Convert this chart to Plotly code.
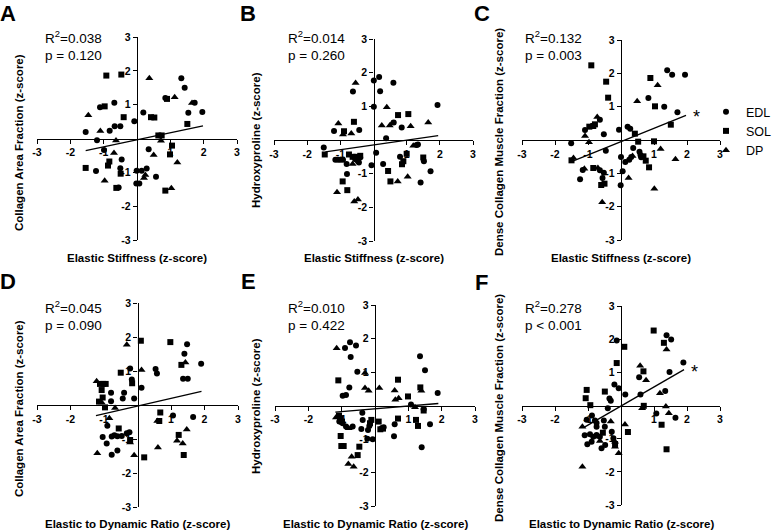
import plotly.graph_objects as go

# ---------------- data ----------------
series_names = ["EDL", "SOL", "DP"]
series_symbols = ["circle", "square", "triangle-up"]

# Panel A: Collagen Area Fraction vs Elastic Stiffness
a_edl_x = [1.33, 1.43, 0.85, -0.68, -1.11, 0.19, 1.54, 1.96, 1.73, -0.08, -0.67, -0.50, -0.82, -1.54, -1.20, -0.99, -0.46, 0.35, -1.23, -0.50, -0.01, 0.14, 0.29, -0.02, 0.07, 0.57, -0.55]
a_edl_y = [1.78, 1.50, 1.20, 1.06, 0.92, 0.77, 0.76, 0.78, 1.06, 0.51, 0.36, 0.36, 0.23, 0.19, -0.05, -0.34, -0.62, -0.32, -0.96, -0.88, -0.95, -0.95, -0.89, -1.33, -1.33, -1.13, -1.45]
a_sol_x = [-0.92, -0.47, -0.97, -0.40, 0.42, 0.52, 0.90, 1.51, 0.64, 0.74, 1.05, 0.99, -0.83, -0.87, -1.54, -0.49, -0.62, 0.85]
a_sol_y = [1.86, 1.89, 0.95, 0.63, 0.63, 0.62, 1.17, 0.43, 0.09, 0.09, -0.21, -0.47, -0.68, -0.80, -0.87, -1.04, -1.46, -1.54]
a_dp_x = [0.37, 1.13, -1.46, -1.10, -0.63, 0.72, -0.69, 0.50, 1.21, -0.97, 0.25, 0.21, 1.03, 1.65]
a_dp_y = [1.78, 1.22, 0.69, 0.22, -0.06, -0.07, -0.43, -0.49, -0.71, -1.25, -1.08, -1.17, -1.47, 1.05]
a_fit_x = [-1.54, 1.98]
a_fit_y = [-0.36, 0.37]

# Panel B: Hydroxyproline vs Elastic Stiffness
b_edl_x = [0.01, 0.17, -0.62, 0.20, 0.60, 0.01, 1.93, -1.19, -0.43, 0.85, 0.61, 0.38, 1.34, -1.50, -1.15, -1.07, -1.00, -0.92, -0.81, -0.80, -0.55, -0.47, -0.44, -0.40, 0.08, -0.06, 0.29, 0.80, 1.52, 1.72, 1.42, 1.30]
b_edl_y = [1.77, 1.87, 1.44, 1.45, 1.70, 0.99, 1.04, 0.27, 0.30, 0.37, 0.52, 0.05, -0.13, -0.22, -0.59, -0.59, -0.59, -0.59, -0.71, -1.01, -0.57, -0.63, -0.67, -0.52, -0.38, -0.75, -0.71, -0.50, -0.63, -0.93, -1.26, -0.15]
b_sol_x = [-0.59, -0.89, 0.74, 1.05, -1.47, -0.74, -0.63, -0.52, -0.40, 1.00, 0.90, 0.86, 1.50, 0.44, 0.51, -0.93, -0.79]
b_sol_y = [0.54, 0.26, 0.74, 0.77, -0.43, -0.43, -0.50, -0.50, -0.47, -0.41, -0.63, -0.72, -0.52, -0.92, -1.23, -1.23, -1.49]
b_dp_x = [-0.54, 0.40, -1.06, -0.67, -0.92, 0.25, 0.49, 0.56, 1.12, 1.65, 1.20, -0.63, 0.73, 1.03, -1.10, -0.58, -0.47]
b_dp_y = [1.69, 0.97, 0.49, 0.19, 0.16, 0.43, 0.43, 0.50, 0.41, 0.52, -0.17, -0.71, -1.23, -1.09, -1.55, -1.83, -1.77]
b_fit_x = [-1.45, 1.95]
b_fit_y = [-0.35, 0.13]

# Panel C: Dense Collagen Muscle Fraction vs Elastic Stiffness
c_edl_x = [1.40, 1.55, 1.94, 0.83, 1.31, 1.71, -0.64, -1.09, -0.52, -0.06, 0.20, 0.28, -1.51, -0.46, 0.37, 0.00, -1.16, -1.24, -0.64, -0.52, 0.13, 0.25, 0.31, 0.56, 0.59, 0.61, -0.01, 0.05, -0.56]
c_edl_y = [2.09, 1.96, 1.96, 1.26, 1.00, 0.83, 0.61, 0.30, 0.17, 0.31, 0.40, 0.34, -0.10, -0.32, -0.24, -0.51, -0.90, -1.18, -0.91, -0.98, -0.66, -0.59, -0.51, -0.35, -0.45, -0.52, -1.36, -0.94, -1.14]
c_sol_x = [-0.90, -0.45, -0.39, 0.89, 1.03, 1.51, -0.96, -0.84, -0.79, 0.42, 0.52, 1.00, -1.50, -0.84, 0.68, 0.75, 0.85, -0.50, -0.60]
c_sol_y = [2.24, 1.75, 1.27, 1.86, 1.01, 0.46, 0.40, 0.42, 0.47, 0.19, -0.05, -0.04, -0.61, -0.84, -0.49, -0.62, -0.82, -1.31, -1.35]
c_dp_x = [1.11, 0.49, -0.72, -1.09, -0.97, -1.44, -1.11, 1.20, 1.65, 0.23, 1.01, -0.57, 0.35, -0.70]
c_dp_y = [1.64, 1.16, 0.69, 0.12, -0.07, -0.54, -0.86, -0.27, -0.58, -1.14, -1.46, -1.87, -0.48, -0.84]
c_fit_x = [-1.48, 1.97]
c_fit_y = [-0.64, 0.74]

# Panel D: Collagen Area Fraction vs Elastic to Dynamic Ratio
d_edl_x = [1.48, 1.40, 1.90, 1.36, 1.50, 0.54, 0.58, -0.22, -0.17, 0.12, -0.79, -0.40, -0.44, -0.10, -0.79, 1.06, 1.66, -0.90, -1.04, -0.92, -0.77, -0.69, -0.60, -0.47, -0.32, -0.24, -0.77, -0.60]
d_edl_y = [1.79, 1.51, 1.21, 0.77, 0.77, 1.06, 0.93, 1.07, 0.75, 0.51, 0.36, 0.36, 0.19, 0.19, 0.11, -0.31, -0.35, -0.61, -0.94, -1.13, -0.93, -0.89, -0.92, -0.91, -0.83, -0.80, -1.46, -1.34]
d_sol_x = [0.10, 0.98, 1.31, -0.50, -0.16, -1.12, -1.02, -0.95, -1.07, -1.04, -1.15, -0.97, 0.68, 0.65, -0.56, -0.22, 1.23, 0.20, 1.38]
d_sol_y = [1.89, 1.85, 1.18, 0.95, 0.64, 0.62, 0.62, 0.62, 0.44, 0.22, 0.10, -0.07, -0.22, -0.47, -0.69, -1.03, -0.88, -1.54, -1.47]
d_dp_x = [-0.32, 0.12, 1.43, -1.22, -1.07, -0.67, -0.84, 0.59, 1.47, 1.18, 1.35, 0.61, -0.10, -1.20, -0.22]
d_dp_y = [1.77, 1.03, 1.25, 0.70, 0.07, -0.09, -0.39, -0.47, -0.72, -1.05, -1.13, -1.25, -1.48, -1.42, -1.10]
d_fit_x = [-1.24, 1.91]
d_fit_y = [-0.31, 0.40]

# Panel E: Hydroxyproline vs Elastic to Dynamic Ratio
e_edl_x = [-0.75, -0.90, -0.57, -0.73, -0.53, -0.77, -0.97, -0.87, 1.35, 1.50, 1.88, 1.08, 1.46, -0.38, -0.37, 1.65, 0.59, -0.41, -0.21, -0.17, 0.20, 0.26, 0.57, 1.40, -0.23, -0.07, -1.07, -0.97, -0.87, -0.67]
e_edl_y = [1.89, 1.72, 1.79, 1.45, 1.01, 0.54, 0.29, 0.31, 1.47, 1.05, 0.37, 0.03, -0.11, -0.22, -0.43, -0.56, -0.56, -0.70, -0.73, -0.61, -0.68, -0.65, -0.92, -1.25, -0.99, -1.01, -0.48, -0.53, -0.63, -0.63]
e_sol_x = [-1.10, 0.69, 0.99, 1.36, -1.04, -0.99, -0.11, -0.15, 0.11, 0.69, 1.23, 1.29, 1.46, -1.03, -0.94, -1.01, -0.47, -0.52, 0.16, 0.24, -1.08]
e_sol_y = [0.75, 0.77, 0.27, 0.54, -0.38, -0.48, -0.43, -0.53, -0.48, -0.39, -0.43, -0.61, -0.15, -0.91, -1.21, -1.21, -1.23, -1.48, -0.71, -0.69, -0.30]
e_dp_x = [-1.15, -0.30, -0.30, -0.19, 0.13, 0.59, 0.61, 0.71, 1.39, 1.20, -1.17, -0.79, -0.70, -0.80, -0.64]
e_dp_y = [1.71, 0.97, 0.52, 0.44, 0.52, 0.45, 0.17, 0.22, 0.44, -0.05, -0.36, -0.68, -1.53, -1.75, -1.83]
e_fit_x = [-1.19, 1.90]
e_fit_y = [-0.20, 0.06]

# Panel F: Dense Collagen Muscle Fraction vs Elastic to Dynamic Ratio
f_edl_x = [1.38, 1.52, -0.13, 1.89, 1.47, 0.55, -0.20, -0.07, 0.13, 0.59, 1.34, -0.35, -0.31, -0.40, 1.07, 1.65, -0.88, -1.04, -0.79, -0.74, -0.74, -0.52, -0.49, -1.10, -0.94, -0.84, -0.74, -0.64, -1.02, -0.89, -0.59, -0.28, -0.23, -0.48]
f_edl_y = [2.12, 1.99, 1.96, 1.30, 1.01, 0.85, 0.63, 0.52, 0.33, 0.33, 0.44, 0.21, 0.14, -0.08, -0.24, -0.37, -0.30, -0.43, -0.45, -0.53, -0.64, -0.45, -0.64, -0.90, -0.87, -0.94, -0.89, -0.94, -1.17, -1.09, -1.29, -0.79, -0.99, -1.19]
f_sol_x = [0.99, 1.30, 0.10, -0.13, 0.68, -1.04, -1.07, -0.49, -0.93, 0.69, 1.23, 0.21, -0.55, 1.38, -0.18]
f_sol_y = [2.26, 1.89, 1.77, 1.28, 1.03, 0.47, 0.22, 0.42, 0.01, -0.01, -0.58, -0.80, -0.82, -1.32, -1.16]
f_dp_x = [1.38, 0.58, 0.76, 1.18, 0.64, 1.36, 1.45, 0.12, -1.17, -0.31, -0.18, -0.18, -0.07, -1.17, -0.76, -0.64]
f_dp_y = [1.69, 1.20, 0.76, 0.37, -0.08, -0.03, -0.23, -0.57, -0.64, -0.48, -1.09, -1.24, -1.44, -1.85, -0.94, -1.07]
f_fit_x = [-1.12, 1.91]
f_fit_y = [-0.66, 1.08]

panel_letters = ["A", "B", "C", "D", "E", "F"]
x_titles = ["Elastic Stiffness (z-score)"] * 3 + ["Elastic to Dynamic Ratio (z-score)"] * 3
y_titles = ["Collagen Area Fraction (z-score)", "Hydroxyproline (z-score)",
            "Dense Collagen Muscle Fraction (z-score)"] * 2
r2_labels = ["0.038", "0.014", "0.132", "0.045", "0.010", "0.278"]
p_labels = ["p = 0.120", "p = 0.260", "p = 0.003", "p = 0.090", "p = 0.422", "p < 0.001"]
significant = [False, False, True, False, False, True]
tick_vals = [-3, -2, -1, 1, 2, 3]
tick_text = ["<b>-3</b>", "<b>-2</b>", "<b>-1</b>", "<b>1</b>", "<b>2</b>", "<b>3</b>"]

panels = [
    [(a_edl_x, a_edl_y), (a_sol_x, a_sol_y), (a_dp_x, a_dp_y), (a_fit_x, a_fit_y)],
    [(b_edl_x, b_edl_y), (b_sol_x, b_sol_y), (b_dp_x, b_dp_y), (b_fit_x, b_fit_y)],
    [(c_edl_x, c_edl_y), (c_sol_x, c_sol_y), (c_dp_x, c_dp_y), (c_fit_x, c_fit_y)],
    [(d_edl_x, d_edl_y), (d_sol_x, d_sol_y), (d_dp_x, d_dp_y), (d_fit_x, d_fit_y)],
    [(e_edl_x, e_edl_y), (e_sol_x, e_sol_y), (e_dp_x, e_dp_y), (e_fit_x, e_fit_y)],
    [(f_edl_x, f_edl_y), (f_sol_x, f_sol_y), (f_dp_x, f_dp_y), (f_fit_x, f_fit_y)],
]

# ---------------- layout geometry (pixels) ----------------
W, H = 777, 532
# (left, right, top, bottom) of the [-3, 3] x [-3, 3] box for each panel
boxes = [
    (37, 237, 37, 240), (274, 473, 39, 241), (522, 720, 40, 240),
    (37, 238, 303, 507), (275, 475, 305, 506), (522, 720, 306, 505),
]
letter_pos = [(8, 13), (248, 13), (482, 13), (8, 281), (248, 281), (482, 282)]
ytitle_x = [19, 256, 499, 19, 256, 499]
ytitle_y = [143, 140, 142, 409, 406, 408]
xtitle_y = [258, 258, 258, 524, 524, 524]
stats_x = [43, 286, 523, 43, 286, 523]
stats_y = [45, 45, 46, 315, 315, 315]

FONT = "Liberation Sans, Arial, Helvetica, sans-serif"
fx = lambda px: px / W
fy = lambda py: 1 - py / H

fig = go.Figure()
layout = dict(
    width=W, height=H, margin=dict(l=0, r=0, t=0, b=0, autoexpand=False),
    paper_bgcolor="white", plot_bgcolor="white",
    font=dict(family=FONT, color="black"),
    showlegend=True,
    legend=dict(x=fx(706), y=fy(131), xanchor="left", yanchor="middle",
                font=dict(size=12.5, family=FONT, color="black"),
                tracegroupgap=0, bgcolor="rgba(0,0,0,0)", borderwidth=0),
)
annotations = []

for i, panel in enumerate(panels):
    n = i + 1
    xa = "x" if n == 1 else f"x{n}"
    ya = "y" if n == 1 else f"y{n}"
    l, r, t, b = boxes[i]
    cx, cy = (l + r) / 2, (t + b) / 2
    common = dict(range=[-3, 3], showgrid=False, zeroline=False, showline=True,
                  linecolor="black", linewidth=1.4, ticks="outside", ticklen=4,
                  tickwidth=1.3, tickcolor="black", tickvals=tick_vals, ticktext=tick_text,
                  tickfont=dict(family=FONT, size=10.5, color="black"),
                  fixedrange=True)
    layout["xaxis" if n == 1 else f"xaxis{n}"] = dict(
        domain=[fx(l), fx(r)], anchor="free", position=fy(cy), **common)
    layout["yaxis" if n == 1 else f"yaxis{n}"] = dict(
        domain=[fy(b), fy(t)], anchor="free", position=fx(cx), **common)

    for k in range(3):
        xs, ys = panel[k]
        fig.add_trace(go.Scatter(
            x=xs, y=ys, mode="markers", xaxis=xa, yaxis=ya,
            name=series_names[k], showlegend=(i == 2),
            marker=dict(symbol=series_symbols[k], color="black",
                        size=7 if k == 2 else 6, line=dict(width=0)),
        ))
    fx_line, fy_line = panel[3]
    fig.add_trace(go.Scatter(x=fx_line, y=fy_line, mode="lines", xaxis=xa, yaxis=ya,
                             line=dict(color="black", width=1.3), showlegend=False))

    # panel letter
    annotations.append(dict(text="<b>" + panel_letters[i] + "</b>", x=fx(letter_pos[i][0]),
                            y=fy(letter_pos[i][1]), xref="paper", yref="paper",
                            xanchor="center", yanchor="middle",
                            showarrow=False, font=dict(size=22, family=FONT)))
    # axis titles
    annotations.append(dict(text="<b>" + x_titles[i] + "</b>", x=fx(cx), y=fy(xtitle_y[i]),
                            xref="paper", yref="paper",
                            xanchor="center", yanchor="middle", showarrow=False,
                            font=dict(size=11.5, family=FONT)))
    annotations.append(dict(text="<b>" + y_titles[i] + "</b>", x=fx(ytitle_x[i]), y=fy(ytitle_y[i]),
                            xref="paper", yref="paper", xanchor="center", yanchor="middle",
                            textangle=-90, showarrow=False, font=dict(size=11.5, family=FONT)))
    # stats (R^2 and p on two lines)
    annotations.append(dict(text="R<sup>2</sup>=" + r2_labels[i] + "<br>" + p_labels[i],
                            x=fx(stats_x[i]), y=fy(stats_y[i]),
                            xref="paper", yref="paper", xanchor="left", yanchor="middle",
                            align="left", showarrow=False, font=dict(size=13.5, family=FONT)))
    if significant[i]:
        annotations.append(dict(text="*", x=fx_line[-1], y=fy_line[-1], xref=xa, yref=ya,
                                xanchor="left", yanchor="middle", xshift=5, yshift=-2,
                                showarrow=False, font=dict(size=18, family=FONT)))

layout["annotations"] = annotations
fig.update_layout(**layout)
fig.write_html("out.html", config={"displayModeBar": False},
               post_script="document.body.style.margin='0px';document.body.style.padding='0px';")
